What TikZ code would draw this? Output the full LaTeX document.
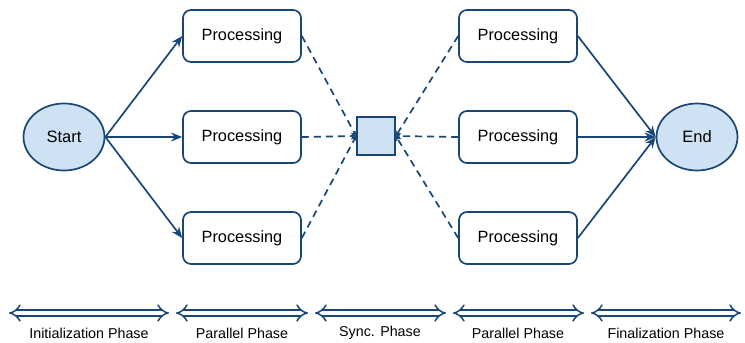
\documentclass[tikz,border=0pt]{standalone}
\usepackage{fontspec}
\setmainfont{Liberation Sans}
\usetikzlibrary{arrows.meta,shapes.geometric}
\definecolor{dblue}{RGB}{26,70,118}
\definecolor{lblue}{RGB}{207,226,243}
\begin{document}
\begin{tikzpicture}[x=1pt,y=-1pt,
  proc/.style={draw=dblue, line width=1.7pt, rounded corners=8pt, minimum width=118pt, minimum height=52pt, fill=white, inner sep=0pt, font=\fontsize{16.3}{19}\selectfont},
  term/.style={ellipse, draw=dblue, fill=lblue, line width=1.7pt, minimum width=81pt, minimum height=67pt, inner sep=0pt, font=\fontsize{16.5}{19}\selectfont},
  syncbox/.style={draw=dblue, fill=lblue, line width=1.7pt, minimum size=38pt, inner sep=0pt},
  flow/.style={draw=dblue, line width=1.7pt, -{Stealth[length=11pt,width=9pt]}},
  dflow/.style={draw=dblue, line width=1.7pt, dash pattern=on 7pt off 5pt, -{Stealth[length=5pt,width=6pt]}},
  phase/.style={draw=dblue, line width=1.5pt, double=white, double distance=4.5pt, {Implies[length=9pt,width=16pt]}-{Implies[length=9pt,width=16pt]}},
  plabel/.style={font=\fontsize{14.3}{16}\selectfont, inner sep=0pt}]
\useasboundingbox (0,0) rectangle (745,343);
\node[term] (start) at (64,137) {Start};
\node[term] (end) at (697,137) {End};
\node[proc] (a1) at (242,36) {Processing};
\node[proc] (a2) at (242,137) {Processing};
\node[proc] (a3) at (242,238) {Processing};
\node[proc] (b1) at (518,36) {Processing};
\node[proc] (b2) at (518,137) {Processing};
\node[proc] (b3) at (518,238) {Processing};
\node[syncbox] (sync) at (376,136) {};
\foreach \p in {a1,a2,a3} {
  \draw[flow] (start.east) -- (\p.west);
  \draw[dflow] (\p.east) -- (sync.west);
}
\foreach \p in {b1,b2,b3} {
  \draw[flow] (\p.east) -- (end.west);
  \draw[dflow] (\p.west) -- (sync.east);
}
\coordinate (s0) at (9,313);
\coordinate (e0) at (169,313);
\coordinate (s1) at (176,313);
\coordinate (e1) at (308,313);
\coordinate (s2) at (315,313);
\coordinate (e2) at (446,313);
\coordinate (s3) at (453,313);
\coordinate (e3) at (584,313);
\coordinate (s4) at (591,313);
\coordinate (e4) at (741,313);
\foreach \i in {0,...,4} { \draw[phase] (s\i) -- (e\i); }
\node[plabel] (l0) at (89,333) {Initialization Phase};
\node[plabel] (l1) at (242,333) {Parallel Phase};
\node[plabel] (l2) at (380,333) {Sync. Phase};
\node[plabel] (l3) at (518,333) {Parallel Phase};
\node[plabel] (l4) at (666,333) {Finalization Phase};
\end{tikzpicture}
\end{document}
